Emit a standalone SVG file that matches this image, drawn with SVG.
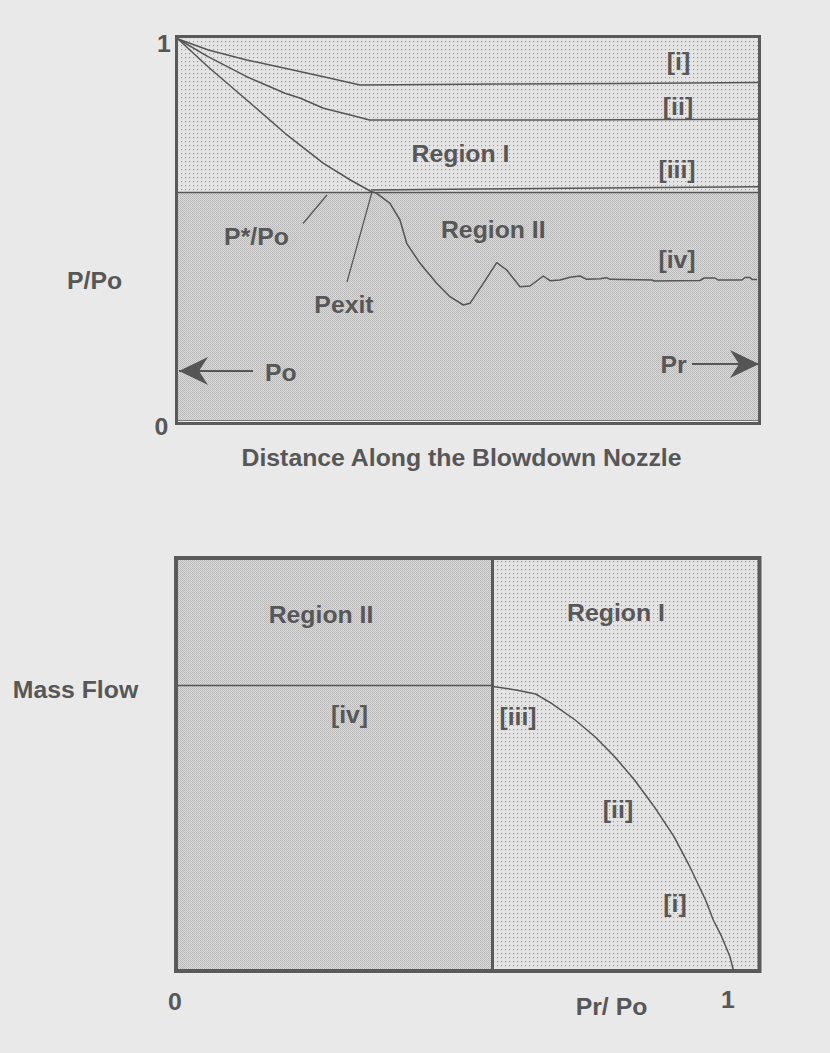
<svg xmlns="http://www.w3.org/2000/svg" width="830" height="1053" viewBox="0 0 830 1053">
<defs>
<pattern id="dots" width="4" height="4" patternUnits="userSpaceOnUse">
<rect width="4" height="4" fill="#e4e4e4"/>
<rect x="1" y="1" width="1.2" height="1.2" fill="#9a9a9a"/>
</pattern>
<pattern id="stipple" width="2" height="2" patternUnits="userSpaceOnUse">
<rect width="2" height="2" fill="#dadada"/>
<rect x="0" y="0" width="1" height="1" fill="#b6b6b6"/>
<rect x="1" y="1" width="1" height="1" fill="#bcbcbc"/>
</pattern>
<marker id="arrowhead" viewBox="0 0 30 30" refX="29" refY="15" markerWidth="30" markerHeight="30" markerUnits="userSpaceOnUse" orient="auto">
<path d="M29,15 L0,1 L9,15 L0,29 Z" fill="#555"/>
</marker>
</defs>
<style>
text{font-family:"Liberation Sans",Arial,Helvetica,sans-serif;font-weight:bold;font-size:24.8px;fill:#575757}
.mid{text-anchor:middle}
.frame{fill:none;stroke:#5a5a5a}
.curve{fill:none;stroke:#555;stroke-width:1.5;stroke-linejoin:round}
.lead{fill:none;stroke:#555;stroke-width:1.2}
</style>
<rect width="830" height="1053" fill="#e9e9e9"/>

<g id="top-chart">
<g id="top-region-I">
<rect x="178" y="38" width="580" height="155" fill="url(#dots)"/>
<text class="mid" x="460.5" y="161.7">Region I</text>
</g>
<g id="top-region-II">
<rect x="178" y="193" width="580" height="228" fill="url(#stipple)"/>
<text class="mid" x="493.3" y="238.3">Region II</text>
</g>
<rect class="frame" x="176.5" y="36.5" width="583" height="387" stroke-width="3"/>
<line x1="178" y1="420.5" x2="758" y2="420.5" stroke="#777" stroke-width="1"/>
<g id="top-axis-labels">
<text class="mid" x="164" y="52">1</text>
<text class="mid" x="161.5" y="435">0</text>
<text x="67" y="289">P/Po</text>
<text class="mid" x="461.5" y="466">Distance Along the Blowdown Nozzle</text>
</g>
<g id="curve-labels-top">
<text class="mid" x="678.5" y="70">[i]</text>
<text class="mid" x="678" y="115">[ii]</text>
<text class="mid" x="677" y="178">[iii]</text>
<text class="mid" x="677" y="268">[iv]</text>
</g>
<g id="label-pstar">
<text class="mid" x="256.5" y="245">P*/Po</text>
</g>
<g id="label-pexit">
<text class="mid" x="344" y="313.3">Pexit</text>
</g>
<g id="label-po">
<text x="265" y="381">Po</text>
</g>
<g id="label-pr">
<text class="mid" x="673.5" y="373">Pr</text>
</g>
</g>

<g id="bottom-chart">
<g id="bottom-region-II">
<rect x="178" y="560" width="314" height="409" fill="url(#stipple)"/>
<text class="mid" x="321" y="623">Region II</text>
<text class="mid" x="349.5" y="723">[iv]</text>
</g>
<g id="bottom-region-I">
<rect x="494" y="560" width="264" height="409" fill="url(#dots)"/>
<text class="mid" x="616" y="621">Region I</text>
<text class="mid" x="518" y="725">[iii]</text>
<text class="mid" x="618" y="818">[ii]</text>
<text class="mid" x="675" y="912">[i]</text>
</g>
<rect class="frame" x="176" y="558" width="583.5" height="413" stroke-width="4"/>
<line x1="492.5" y1="558" x2="492.5" y2="971" stroke="#5a5a5a" stroke-width="3"/>
<g id="bottom-axis-labels">
<text class="mid" x="75.5" y="698.3">Mass Flow</text>
<text class="mid" x="175" y="1010">0</text>
<text class="mid" x="611.5" y="1015">Pr/ Po</text>
<text class="mid" x="728" y="1008">1</text>
</g>
</g>

<g id="connectors">
<line class="curve" x1="178" y1="192.6" x2="758" y2="192.6"/>
<polyline class="curve" points="178,39 208.4,50 246.7,60 285,68.3 323.5,76.7 360,85 500,84 620,83.5 758,82.5"/>
<polyline class="curve" points="178,39 208,56.7 246.7,76.7 285,93.3 300.5,98.3 323.5,108.3 350.4,115 369.5,120 560,120 758,119.3"/>
<polyline class="curve" points="178,39 208,66.7 246.7,100 285,133.3 323.5,163.3 350.4,180 371,191.5 376.7,193.3 390,203.3 400,220 406.7,243.3 420,263.3 436.7,283.3 450,296.7 463.3,305 470,303.3 483.3,283.3 496.7,262.7 506.7,270 520,286.7 530,286 543.3,276 550,280.7 560,280 570,277.3 580,276 586.7,279.3 600,278.7 606.7,277.7 610,279.3 652,280 654,281 700,280.5 704,278 715,278 718,280 742,280 745,277.5 750,277.5 752,279.5 757,279.5"/>
<polyline class="curve" points="371,190 480,189 600,188 758,186.8"/>
<line class="lead" x1="303" y1="223.5" x2="327" y2="195"/>
<line class="lead" x1="347" y1="282" x2="372" y2="192"/>
<line stroke="#555" stroke-width="2" x1="253" y1="371" x2="179" y2="371" marker-end="url(#arrowhead)"/>
<line stroke="#555" stroke-width="2" x1="692" y1="364" x2="759" y2="364" marker-end="url(#arrowhead)"/>
<line class="curve" x1="178" y1="685.5" x2="493" y2="685.5"/>
<polyline class="curve" points="493,686.5 515.9,690 535.7,694 551.5,703.3 575.2,720 595,736.7 614.7,756.7 634.5,780 654.2,806.7 674,836.7 689.8,866.7 705.6,900 713.3,920 721.7,936.7 730,956.7 733.3,970"/>
</g>
</svg>
